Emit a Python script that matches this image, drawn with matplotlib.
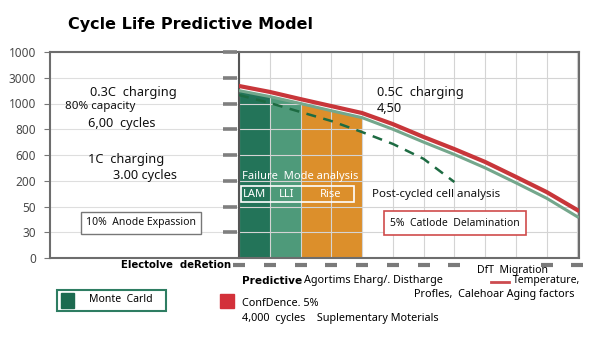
import matplotlib
matplotlib.use("Agg")
import matplotlib.pyplot as plt
from matplotlib.patches import Rectangle
import numpy as np

# --- data --------------------------------------------------------------
y_tick_labels = ["0", "30", "50", "200", "600", "800", "1000", "3000", "1000"]

cycle_x = [0, 1, 2, 3, 4, 5, 6, 7, 8, 9, 10, 11]
red_curve = [6.68, 6.45, 6.17, 5.90, 5.63, 5.20, 4.70, 4.23, 3.73, 3.15, 2.56, 1.86]
green_curve = [6.50, 6.27, 6.00, 5.72, 5.45, 5.00, 4.50, 4.02, 3.50, 2.92, 2.32, 1.60]

dashed_x = [0, 1, 2, 3, 4, 5, 6, 7]
dashed_y = [6.33, 6.02, 5.67, 5.32, 4.89, 4.43, 3.85, 2.95]

band_edges = [(0, 1), (1, 2), (2, 4)]
band_colors = ["#237459", "#4e9a7a", "#dc8f2b"]

bottom_dash_x = [0, 1, 2, 3, 4, 5, 6, 7, 10, 11]

W, H = 600, 338


def px(x, y):
    return x / W, 1 - y / H


fig = plt.figure(figsize=(6, 3.38), dpi=100)
plt.rcParams["font.family"] = ["Noto Sans", "DejaVu Sans"]

bot = (H - 258) / H
hgt = 206 / H
axL = fig.add_axes([50 / W, bot, 189 / W, hgt])
axR = fig.add_axes([239 / W, bot, 340 / W, hgt])

# left panel
axL.set_xlim(0, 1)
axL.set_ylim(0, 8)
ticks = np.arange(len(y_tick_labels))
axL.set_yticks(ticks)
axL.set_yticklabels(y_tick_labels, fontsize=8.5, color="#4a4a4a")
axL.set_xticks([])
axL.yaxis.grid(True, color="#dedede", lw=0.8)
axL.set_axisbelow(True)
axL.tick_params(axis="y", left=True, length=4, color="#777777", pad=6)
for s in ("left", "bottom", "top"):
    axL.spines[s].set_color("#6d6d6d")
    axL.spines[s].set_linewidth(1.5)
axL.spines["right"].set_visible(False)
# gray dashes along the divider
axL.plot([0.952] * (len(ticks) - 1), ticks[1:], ls="none", marker="_",
         ms=10, mew=2.6, color="#7f7f7f", clip_on=False, zorder=3)

# right panel
axR.set_xlim(0, 11.05)
axR.set_ylim(0, 8)
axR.set_xticks(range(12))
axR.set_yticks(ticks)
axR.tick_params(left=False, bottom=False, labelleft=False, labelbottom=False)
axR.grid(True, color="#d4d4d4", lw=0.8)
axR.set_axisbelow("line")
for s in axR.spines.values():
    s.set_color("#6d6d6d")
    s.set_linewidth(1.5)
axR.spines["left"].set_color("#555555")

xs = np.array(cycle_x)
for (a, b), c in zip(band_edges, band_colors):
    axR.fill_between(xs, 0, green_curve, where=(xs >= a) & (xs <= b),
                     color=c, lw=0, zorder=1)

axR.plot(cycle_x, green_curve, color="#74a78c", lw=2.2, zorder=3)
axR.plot(cycle_x, red_curve, color="#c8363a", lw=3.0, zorder=4)
axR.plot(dashed_x, dashed_y, color="#1d6b42", lw=1.8, ls=(0, (4, 3)), zorder=3)

axR.plot(bottom_dash_x, [-0.27] * len(bottom_dash_x), ls="none", marker="_",
         ms=8, mew=3, color="#7a7a7a", clip_on=False)

axR.add_patch(Rectangle((0.05, 2.17), 3.68, 0.63, fill=False,
                        ec="white", lw=1.2, zorder=5))

# title
fig.text(*px(68, 25), "Cycle Life Predictive Model", fontsize=11.5,
         fontweight="bold", family="DejaVu Sans", va="center")

txt = dict(va="center", color="#111111")
# left panel annotations
fig.text(*px(90, 92), "0.3C  charging", fontsize=9.2, **txt)
fig.text(*px(65, 107), "80% capacity", fontsize=8.3, **txt)
fig.text(*px(88, 124), "6,00  cycles", fontsize=9.2, **txt)
fig.text(*px(88, 160), "1C  charging", fontsize=9.2, **txt)
fig.text(*px(113, 176), "3.00 cycles", fontsize=9.2, **txt)
fig.text(*px(141, 223), "10%  Anode Expassion", fontsize=7.5, ha="center",
         va="center", color="#111111",
         bbox=dict(boxstyle="square,pad=0.5", fc="white", ec="#777777", lw=1))

# right panel annotations
fig.text(*px(377, 92), "0.5C  charging", fontsize=9.2, **txt)
fig.text(*px(377, 108), "4,50", fontsize=9.2, **txt)
fig.text(*px(242, 176), "Failure  Mode analysis", fontsize=8, color="white",
         va="center", zorder=6)
fig.text(*px(255, 194), "LAM", fontsize=8, color="white", ha="center",
         va="center", zorder=6)
fig.text(*px(287, 194), "LLI", fontsize=8, color="white", ha="center",
         va="center", zorder=6)
fig.text(*px(331, 194), "Rise", fontsize=8, color="white", ha="center",
         va="center", zorder=6)
fig.text(*px(372, 195), "Post-cycled cell analysis", fontsize=8.3, **txt)
fig.text(*px(455, 223), "5%  Catlode  Delamination", fontsize=7.5,
         ha="center", va="center", color="#111111",
         bbox=dict(boxstyle="square,pad=0.6", fc="white", ec="#cf4b4b", lw=1.2))

# below the axes
fig.text(*px(231, 265), "Electolve  deRetion", fontsize=7.3, ha="right",
         va="center", fontweight="bold", family="DejaVu Sans")
fig.text(*px(477, 270), "DfT  Migration", fontsize=7.5, va="center")
fig.text(*px(242, 281), "Predictive", fontsize=7.6, fontweight="bold",
         family="DejaVu Sans", va="center")
fig.text(*px(304, 281), "Agortims Eharg/. Distharge", fontsize=7.8,
         va="center")
fig.add_artist(plt.Line2D([491 / W, 509 / W], [1 - 282 / H, 1 - 282 / H],
                          color="#cc4b4f", lw=2))
fig.text(*px(513, 281), "Temperature,", fontsize=7.5, va="center")
fig.text(*px(414, 295), "Profles,  Calehoar Aging factors", fontsize=7.8,
         va="center")

fig.add_artist(Rectangle(px(57, 311), 109 / W, 21 / H, fill=False,
                         ec="#2e7d62", lw=1.5))
fig.add_artist(Rectangle(px(61, 308), 13 / W, 15 / H, color="#1c6a50"))
fig.text(*px(89, 300), "Monte  Carld", fontsize=7.5, va="center")
fig.add_artist(Rectangle(px(220, 308), 14 / W, 14 / H, color="#d3313a"))
fig.text(*px(242, 303), "ConfDence. 5%", fontsize=7.8, va="center")
fig.text(*px(242, 318), "4,000  cycles    Suplementary Moterials",
         fontsize=7.8, va="center")

fig.savefig("out.png", dpi=100)
